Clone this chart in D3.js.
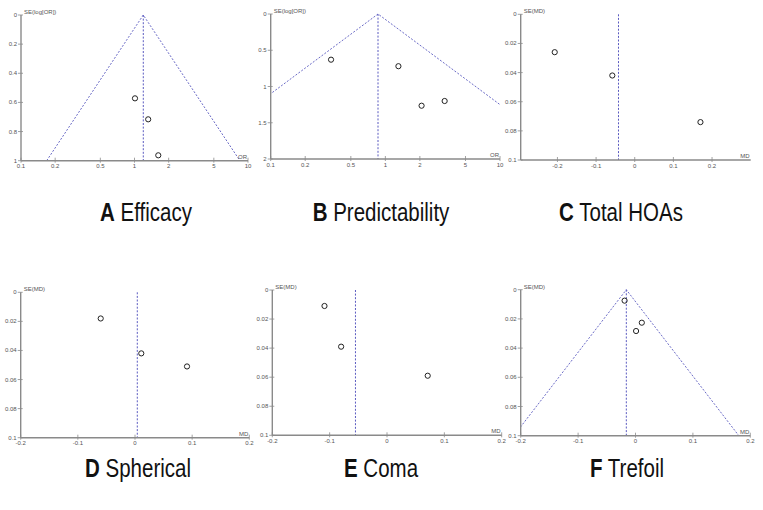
<!DOCTYPE html>
<html><head><meta charset="utf-8">
<script src="https://cdn.jsdelivr.net/npm/d3@7"></script>
<style>body{margin:0;background:#fff}svg{display:block}</style>
</head><body>
<script>
// ---- data ----
const panelLetters = ["A","B","C","D","E","F"];
const panelTitles = ["Efficacy","Predictability","Total HOAs","Spherical","Coma","Trefoil"];
const xAxisLabels = ["OR","OR","MD","MD","MD","MD"];
const yAxisLabels = ["SE(log[OR])","SE(log[OR])","SE(MD)","SE(MD)","SE(MD)","SE(MD)"];
const effectA = [1.01, 1.32, 1.62];
const seA     = [0.572, 0.716, 0.963];
const effectB = [0.336, 1.30, 2.07, 3.29];
const seB     = [0.63, 0.72, 1.265, 1.20];
const effectC = [-0.207, -0.058, 0.170];
const seC     = [0.026, 0.042, 0.074];
const effectD = [-0.060, 0.011, 0.091];
const seD     = [0.018, 0.042, 0.051];
const effectE = [-0.109, -0.080, 0.071];
const seE     = [0.011, 0.039, 0.059];
const effectF = [-0.019, 0.011, 0.001];
const seF     = [0.0075, 0.0226, 0.0283];
const pooledEffects = [1.195, 0.863, -0.042, 0.004, -0.055, -0.016];
const showFunnel = [true, true, false, false, false, true];
const xTicksOR = [0.1, 0.2, 0.5, 1, 2, 5, 10];
const xTicksMD = [-0.2, -0.1, 0, 0.1, 0.2];
const yTicksA = [0, 0.2, 0.4, 0.6, 0.8, 1];
const yTicksB = [0, 0.5, 1, 1.5, 2];
const yTicksMD = [0, 0.02, 0.04, 0.06, 0.08, 0.1];

const effects = [effectA, effectB, effectC, effectD, effectE, effectF];
const ses = [seA, seB, seC, seD, seE, seF];

// ---- layout ----
const layout = [
  {x0:21,   x1:248,   y0:15,    y1:160.7, log:true,  xd:[0.1,10],       yd:[0,1],   yt:yTicksA,  xt:xTicksOR, tx:146, ty:221},
  {x0:270.7,x1:500,   y0:14,    y1:159,   log:true,  xd:[0.1,10],       yd:[0,2],   yt:yTicksB,  xt:xTicksOR, tx:381, ty:221},
  {x0:520.7,x1:750.7, y0:14.3,  y1:160,   log:false, xd:[-0.295,0.3],   yd:[0,0.1], yt:yTicksMD, xt:xTicksMD, tx:621, ty:221},
  {x0:20.7, x1:249.3, y0:292.3, y1:437.7, log:false, xd:[-0.2,0.2],     yd:[0,0.1], yt:yTicksMD, xt:xTicksMD, tx:138, ty:477},
  {x0:272.3,x1:501.7, y0:290,   y1:435.3, log:false, xd:[-0.2,0.2],     yd:[0,0.1], yt:yTicksMD, xt:xTicksMD, tx:381, ty:477},
  {x0:520.7,x1:750.3, y0:289.7, y1:435.7, log:false, xd:[-0.2,0.2],     yd:[0,0.1], yt:yTicksMD, xt:xTicksMD, tx:627, ty:477}
];

const W = 763, H = 510;
const svg = d3.select("body").append("svg").attr("width", W).attr("height", H);
const axisColor = "#8a8a8a", tickText = "#555", dashColor = "#5a5ac0";
const fmt = v => String(+v.toFixed(4));

layout.forEach((L, i) => {
  const g = svg.append("g");
  const x = (L.log ? d3.scaleLog() : d3.scaleLinear()).domain(L.xd).range([L.x0, L.x1]);
  const y = d3.scaleLinear().domain(L.yd).range([L.y0, L.y1]);
  const clipId = "clip" + i;
  svg.append("clipPath").attr("id", clipId).append("rect")
    .attr("x", L.x0).attr("y", L.y0 - 1).attr("width", L.x1 - L.x0).attr("height", L.y1 - L.y0 + 1);

  // funnel
  const c = pooledEffects[i];
  const seMax = L.yd[1];
  if (showFunnel[i]) {
    const off = s => L.log ? [c * Math.exp(-1.96 * s), c * Math.exp(1.96 * s)] : [c - 1.96 * s, c + 1.96 * s];
    const [lo, hi] = off(seMax);
    const line = d3.line().x(d => x(d[0])).y(d => y(d[1]));
    g.append("path").attr("clip-path", `url(#${clipId})`)
      .attr("d", line([[lo, seMax], [c, 0], [hi, seMax]]))
      .attr("fill", "none").attr("stroke", dashColor).attr("stroke-width", 0.9)
      .attr("stroke-dasharray", "2,1.6");
  }
  // pooled vertical line
  g.append("line").attr("x1", x(c)).attr("x2", x(c)).attr("y1", y(0)).attr("y2", y(seMax))
    .attr("stroke", dashColor).attr("stroke-width", 1).attr("stroke-dasharray", "2,1.6");

  // axes
  g.append("line").attr("x1", L.x0).attr("x2", L.x0).attr("y1", L.y0).attr("y2", L.y1)
    .attr("stroke", axisColor).attr("stroke-width", 1.4);
  g.append("line").attr("x1", L.x0).attr("x2", L.x1).attr("y1", L.y1).attr("y2", L.y1)
    .attr("stroke", axisColor).attr("stroke-width", 1.4);

  L.yt.forEach(t => {
    g.append("line").attr("x1", L.x0 - 3).attr("x2", L.x0 + 2).attr("y1", y(t)).attr("y2", y(t))
      .attr("stroke", axisColor).attr("stroke-width", 0.8);
    g.append("text").attr("x", L.x0 - 4).attr("y", y(t) + 2).attr("text-anchor", "end")
      .attr("font-family", "Liberation Sans, Arial, sans-serif").attr("font-size", 6)
      .attr("fill", tickText).text(fmt(t));
  });
  L.xt.forEach(t => {
    g.append("line").attr("x1", x(t)).attr("x2", x(t)).attr("y1", L.y1 - 3).attr("y2", L.y1 + 2)
      .attr("stroke", axisColor).attr("stroke-width", 0.8);
    g.append("text").attr("x", x(t)).attr("y", L.y1 + 7.5).attr("text-anchor", "middle")
      .attr("font-family", "Liberation Sans, Arial, sans-serif").attr("font-size", 6)
      .attr("fill", tickText).text(fmt(t));
  });
  // axis labels
  g.append("text").attr("x", L.x0 + 3).attr("y", L.y0 - 1).attr("font-family", "Liberation Sans, Arial, sans-serif")
    .attr("font-size", 6).attr("fill", tickText).text(yAxisLabels[i]);
  g.append("text").attr("x", L.x1 - 1).attr("y", L.y1 - 2).attr("text-anchor", "end")
    .attr("font-family", "Liberation Sans, Arial, sans-serif")
    .attr("font-size", 6).attr("fill", tickText).text(xAxisLabels[i]);

  // points
  g.selectAll("circle.pt").data(effects[i].map((e, k) => [e, ses[i][k]])).enter()
    .append("circle").attr("class", "pt")
    .attr("cx", d => x(d[0])).attr("cy", d => y(d[1])).attr("r", 2.6)
    .attr("fill", "none").attr("stroke", "#222").attr("stroke-width", 1);

  // title (condensed like Arial Narrow)
  const t = svg.append("text")
    .attr("transform", `translate(${L.tx},${L.ty}) scale(0.82,1)`)
    .attr("text-anchor", "middle")
    .attr("font-family", "Liberation Sans, Arial, sans-serif")
    .attr("font-size", 25).attr("fill", "#111");
  t.append("tspan").attr("font-weight", "bold").text(panelLetters[i]);
  t.append("tspan").text(" " + panelTitles[i]);
});
</script>
</body></html>
